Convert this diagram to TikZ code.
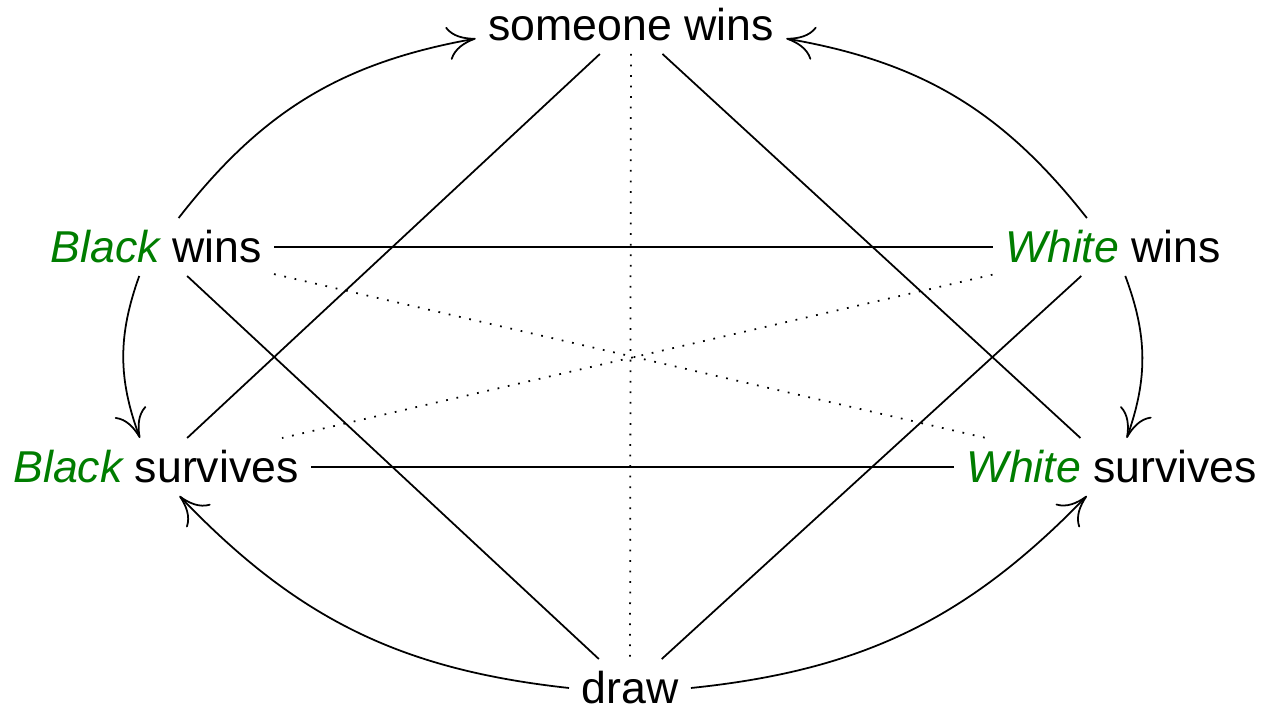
\documentclass[tikz,border=0pt]{standalone}
\usepackage{fontspec}
\setmainfont{Liberation Sans}
\usetikzlibrary{arrows.meta}
\definecolor{wingreen}{RGB}{0,125,0}
\newcommand{\plr}[1]{\textcolor{wingreen}{\itshape #1}}

\begin{document}
\begin{tikzpicture}[
            font=\fontsize{12.7}{15}\selectfont,
            line width=0.5pt,
            arr/.style={-{To[length=8pt,width=9.5pt]}},
            dots/.style={dash pattern=on 0.5pt off 2.5pt}
        ]
        \useasboundingbox (-6.30,-3.53) rectangle (6.33,3.57);

        \node (sw) at (0.01,3.32) {someone wins};
        \node (bw) at (-4.74,1.10) {\plr{Black} wins};
        \node (ww) at (4.83,1.10) {\plr{White} wins};
        \node (bs) at (-4.74,-1.10) {\plr{Black} survives};
        \node (ws) at (4.82,-1.10) {\plr{White} survives};
        \node (dr) at (0,-3.31) {draw};

        \draw (bw) -- (ww);
        \draw (bs) -- (ws);
        \draw (sw) -- (bs);
        \draw (sw) -- (ws);
        \draw (dr) -- (bw);
        \draw (dr) -- (ww);
        \draw[dots] (sw) -- (dr);
        \draw[dots] (bw) -- (ws);
        \draw[dots] (ww) -- (bs);

        \draw[arr] (bw.52) to[bend left=21] (sw.185);
        \draw[arr] (ww.132) to[bend right=21] (sw.-5);
        \draw[arr] (bw.240) to[bend right=20] (bs.119);
        \draw[arr] (ww.293) to[bend left=20] (ws.63);
        \draw[arr] (dr.west) to[bend left=20] (bs.309);
        \draw[arr] (dr.east) to[bend right=20] (ws.229);
    \end{tikzpicture}
\end{document}
